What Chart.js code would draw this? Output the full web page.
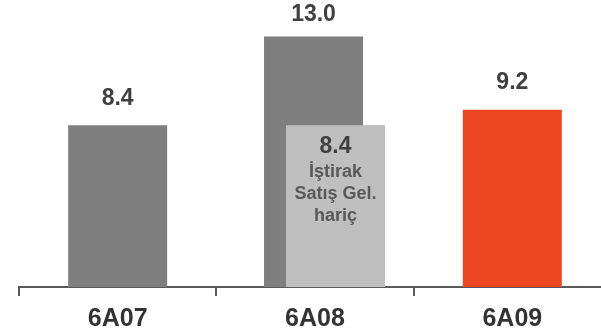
<!DOCTYPE html>
<html lang="tr">
<head>
  <meta charset="UTF-8">
  <title>6A07 - 6A09</title>
  <script src="https://cdn.jsdelivr.net/npm/chart.js"></script>
  <style>
    body { margin: 0; overflow: hidden; background: #fff; }
    canvas { display: block; }
  </style>
</head>
<body>
  <canvas id="chart" width="612" height="334"></canvas>
  <script>
    // chart data
    const categories = ['6A07', '6A08', '6A09'];
    const reported = [8.4, 13.0, 9.2];
    const excludingSale = [null, 8.4, null];
    const noteLines = ['İştirak', 'Satış Gel.', 'hariç'];
    const barColors = ['#7f7f7f', '#7f7f7f', '#ee4623'];

    const FONT = "'Liberation Sans', Arial, sans-serif";

    // redraw the light bar on top and write the value labels
    const labelPlugin = {
      id: 'labels',
      afterDatasetsDraw(chart) {
        const ctx = chart.ctx;
        const lightMeta = chart.getDatasetMeta(1);
        lightMeta.controller.draw();

        ctx.save();
        ctx.textAlign = 'center';
        ctx.textBaseline = 'middle';
        ctx.fillStyle = '#404040';
        ctx.font = 'bold 23px ' + FONT;
        chart.getDatasetMeta(0).data.forEach((bar, i) => {
          if (reported[i] == null) return;
          const y = Math.max(bar.y - 27, 15);
          ctx.fillText(reported[i].toFixed(1), bar.x, y);
        });

        lightMeta.data.forEach((bar, i) => {
          if (excludingSale[i] == null) return;
          ctx.fillStyle = '#404040';
          ctx.font = 'bold 23px ' + FONT;
          ctx.fillText(excludingSale[i].toFixed(1), bar.x, bar.y + 21);
          ctx.fillStyle = '#595959';
          ctx.font = 'bold 18px ' + FONT;
          noteLines.forEach((line, k) => {
            ctx.fillText(line, bar.x, bar.y + 47 + k * 22);
          });
        });
        ctx.restore();
      }
    };

    new Chart(document.getElementById('chart'), {
      type: 'bar',
      data: {
        labels: categories,
        datasets: [
          {
            label: 'Reported',
            data: reported,
            backgroundColor: barColors,
            skipNull: true,
            categoryPercentage: 0.03,
            barPercentage: 40,
            maxBarThickness: 99,
            order: 0
          },
          {
            label: 'Excluding sale',
            data: excludingSale,
            backgroundColor: '#bfbfbf',
            categoryPercentage: 0.415,
            barPercentage: 3,
            maxBarThickness: 99,
            order: 1
          }
        ]
      },
      options: {
        responsive: false,
        animation: false,
        layout: { padding: { left: 19, right: 1, top: 0, bottom: 0 } },
        plugins: { legend: { display: false }, tooltip: { enabled: false } },
        scales: {
          x: {
            afterFit(scale) { scale.height = 47; },
            grid: {
              drawOnChartArea: false,
              drawTicks: true,
              tickLength: 9,
              color: '#595959',
              lineWidth: 2,
              offset: true
            },
            border: { display: true, color: '#595959', width: 2 },
            ticks: {
              padding: 11,
              color: '#333333',
              font: { family: FONT, size: 25, weight: 'bold', lineHeight: 1 }
            }
          },
          y: { display: false, min: 0, max: 14.9 }
        }
      },
      plugins: [labelPlugin]
    });
  </script>
</body>
</html>
